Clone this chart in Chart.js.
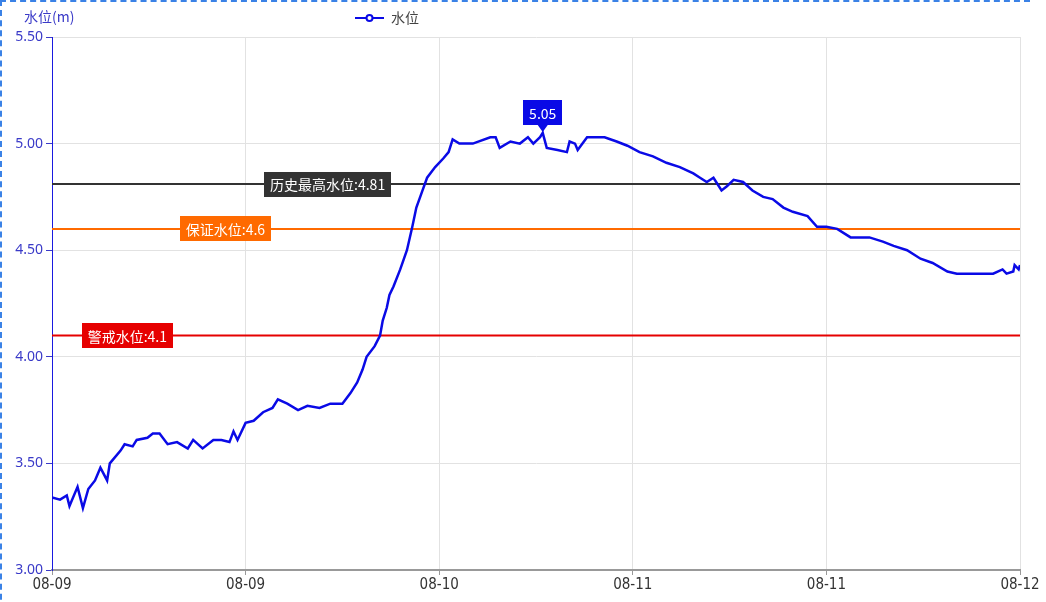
<!DOCTYPE html>
<html>
<head>
<meta charset="utf-8">
<script src="https://cdn.jsdelivr.net/npm/chart.js@4/dist/chart.umd.min.js"></script>
<style>
  html, body { margin: 0; padding: 0; background: #fff; }
  #wrap { position: relative; width: 1046px; height: 602px; }
  #frame { position: absolute; left: 0; top: 0; width: 1030px; height: 640px;
           border-left: 2px dashed #3b82e6; border-top: 2px dashed #3b82e6; box-sizing: border-box; pointer-events: none; }
</style>
</head>
<body>
<div id="wrap">
  <canvas id="canvas" width="1046" height="602"></canvas>
  <div id="frame"></div>
</div>
<script>
// hours since 08-09 00:00, and water level (m)
var hours = [0, 0.6, 1.1, 1.3, 1.9, 2.3, 2.7, 3.2, 3.6, 4.1, 4.3, 5.1, 5.4, 6.0, 6.3, 7.1, 7.5, 8.0, 8.6, 9.3,
  10.1, 10.5, 11.2, 12.0, 12.6, 13.2, 13.5, 13.8, 14.4, 15.0, 15.7, 16.4, 16.8, 17.5, 18.3, 19.0, 19.9, 20.7, 21.6, 22.2,
  22.7, 23.1, 23.4, 24.0, 24.4, 24.6, 24.9, 25.1, 25.4, 25.9, 26.4, 26.8, 27.1, 27.5, 27.9, 28.5, 29.1, 29.5, 29.8, 30.3,
  31.3, 32.6, 33.0, 33.3, 34.1, 34.8, 35.4, 35.8, 36.3, 36.5, 36.8, 37.6, 38.3, 38.5, 38.9, 39.1, 39.8, 40.5, 41.1, 42.0,
  42.8, 43.7, 44.7, 45.7, 46.7, 47.7, 48.2, 48.7, 49.2, 49.8, 50.2, 50.7, 51.4, 52.1, 52.9, 53.6, 54.4, 55.1, 56.2, 56.9,
  57.6, 58.4, 59.4, 60.8, 61.8, 62.6, 63.6, 64.6, 65.5, 66.6, 67.3, 70.0, 70.7, 71.0, 71.5, 71.6, 71.9, 72.0];
var levels = [3.34, 3.33, 3.35, 3.30, 3.39, 3.29, 3.38, 3.42, 3.48, 3.42, 3.50, 3.56, 3.59, 3.58, 3.61, 3.62, 3.64, 3.64, 3.59, 3.60,
  3.57, 3.61, 3.57, 3.61, 3.61, 3.60, 3.65, 3.61, 3.69, 3.70, 3.74, 3.76, 3.80, 3.78, 3.75, 3.77, 3.76, 3.78, 3.78, 3.83,
  3.88, 3.94, 4.00, 4.05, 4.10, 4.17, 4.23, 4.29, 4.33, 4.41, 4.50, 4.61, 4.70, 4.77, 4.84, 4.89, 4.93, 4.96, 5.02, 5.00,
  5.00, 5.03, 5.03, 4.98, 5.01, 5.00, 5.03, 5.00, 5.03, 5.05, 4.98, 4.97, 4.96, 5.01, 5.00, 4.97, 5.03, 5.03, 5.03, 5.01,
  4.99, 4.96, 4.94, 4.91, 4.89, 4.86, 4.84, 4.82, 4.84, 4.78, 4.80, 4.83, 4.82, 4.78, 4.75, 4.74, 4.70, 4.68, 4.66, 4.61,
  4.61, 4.60, 4.56, 4.56, 4.54, 4.52, 4.50, 4.46, 4.44, 4.40, 4.39, 4.39, 4.41, 4.39, 4.40, 4.43, 4.41, 4.43];

var xTickHours = [0, 14.4, 28.8, 43.2, 57.6, 72];
var xTickLabels = ['08-09', '08-09', '08-10', '08-11', '08-11', '08-12'];

// reference lines: name, value, colour, label position (hour)
var refNames = ['历史最高水位', '保证水位', '警戒水位'];
var refValues = [4.81, 4.6, 4.1];
var refColors = ['#333333', '#ff6a00', '#e60000'];
var refLabelAt = [20.5, 12.9, 5.6];

var CJK = '"Noto Sans CJK SC", "Noto Sans", sans-serif';

var series = [];
for (var i = 0; i < hours.length; i++) series.push({x: hours[i], y: levels[i]});

var datasets = [{
  label: '水位',
  data: series,
  borderColor: '#0a0ae6',
  borderWidth: 2.5,
  pointRadius: 0,
  tension: 0,
  order: 0
}];
for (var k = 0; k < refValues.length; k++) {
  datasets.push({
    label: refNames[k],
    data: [{x: 0, y: refValues[k]}, {x: 72, y: refValues[k]}],
    borderColor: refColors[k],
    borderWidth: 2,
    pointRadius: 0,
    order: 1
  });
}

function box(ctx, text, cx, cy, bg, pad) {
  ctx.font = '14px ' + CJK;
  var w = ctx.measureText(text).width + pad * 2;
  var h = 25;
  ctx.fillStyle = bg;
  ctx.fillRect(Math.round(cx - w / 2), Math.round(cy - h / 2), Math.round(w), h);
  ctx.fillStyle = '#fff';
  ctx.textAlign = 'center';
  ctx.textBaseline = 'middle';
  ctx.fillText(text, cx, cy + 1);
  return w;
}

var decor = {
  id: 'decor',
  afterDatasetsDraw: function(chart) {
    var ctx = chart.ctx, xs = chart.scales.x, ys = chart.scales.y;
    ctx.save();
    // reference labels
    for (var k = 0; k < refValues.length; k++) {
      box(ctx, refNames[k] + ':' + refValues[k], xs.getPixelForValue(refLabelAt[k]), ys.getPixelForValue(refValues[k]), refColors[k], 6);
    }
    // peak marker
    var mi = 0;
    for (var i = 1; i < levels.length; i++) if (levels[i] > levels[mi]) mi = i;
    var px = xs.getPixelForValue(hours[mi]), py = ys.getPixelForValue(levels[mi]);
    var by = py - 20;
    box(ctx, levels[mi].toFixed(2), px, by, '#0a0ae6', 6);
    ctx.fillStyle = '#0a0ae6';
    ctx.beginPath();
    ctx.moveTo(px - 5, by + 12);
    ctx.lineTo(px + 5, by + 12);
    ctx.lineTo(px, py - 1);
    ctx.closePath();
    ctx.fill();
    // y axis title
    ctx.font = '14px ' + CJK;
    ctx.fillStyle = '#3a3ac8';
    ctx.textAlign = 'left';
    ctx.textBaseline = 'middle';
    ctx.fillText('水位(m)', 24, 17);
    // legend
    ctx.strokeStyle = '#0a0ae6';
    ctx.lineWidth = 2;
    ctx.beginPath();
    ctx.moveTo(355, 18);
    ctx.lineTo(384, 18);
    ctx.stroke();
    ctx.beginPath();
    ctx.arc(369.5, 18, 3, 0, Math.PI * 2);
    ctx.fillStyle = '#fff';
    ctx.fill();
    ctx.stroke();
    ctx.fillStyle = '#444';
    ctx.fillText('水位', 391, 18);
    ctx.restore();
  }
};

var config = {
  type: 'line',
  data: { datasets: datasets },
  options: {
    responsive: false,
    animation: false,
    layout: { padding: { left: 0, right: 26, top: 37, bottom: 0 } },
    plugins: { legend: { display: false }, tooltip: { enabled: false } },
    scales: {
      x: {
        type: 'linear',
        min: 0,
        max: 72,
        afterBuildTicks: function(scale) {
          scale.ticks = xTickHours.map(function(v) { return {value: v}; });
        },
        afterFit: function(scale) { scale.height = 32; },
        ticks: {
          color: '#333',
          font: { size: 15, family: '"Liberation Sans Narrow", "DejaVu Sans Condensed", sans-serif' },
          padding: 1,
          maxRotation: 0,
          callback: function(v) { return xTickLabels[xTickHours.indexOf(v)]; }
        },
        grid: { color: '#e2e2e2', tickLength: 5, tickColor: '#999' },
        border: { color: '#999', width: 2 }
      },
      y: {
        min: 3,
        max: 5.5,
        afterFit: function(scale) { scale.width = 52; },
        ticks: {
          stepSize: 0.5,
          color: '#3a3ac8',
          font: { size: 14, family: '"Noto Sans", sans-serif' },
          padding: 3,
          callback: function(v) { return v.toFixed(2); }
        },
        grid: { color: '#e2e2e2', tickLength: 6, tickColor: '#3a3ac8' },
        border: { color: '#1a1ae0', width: 1 }
      }
    }
  },
  plugins: [decor]
};

var ctx = document.getElementById('canvas').getContext('2d');
window.myLine = new Chart(ctx, config);
</script>
</body>
</html>
